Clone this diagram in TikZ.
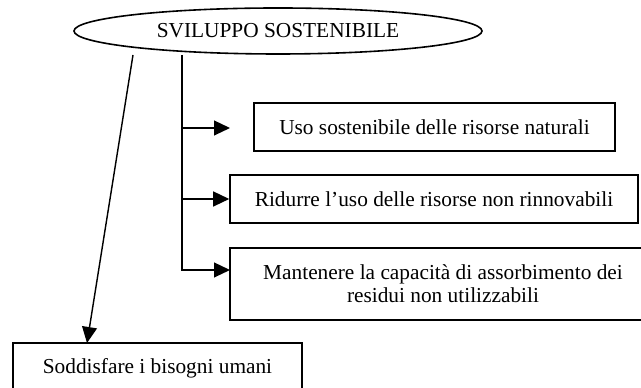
\documentclass[tikz,border=0pt]{standalone}
\usepackage{fontspec}
\setmainfont{Liberation Serif}
\usetikzlibrary{arrows.meta,shapes.geometric}
\begin{document}
\begin{tikzpicture}[x=0.5625pt,y=-0.5625pt,
  every node/.style={font=\fontsize{12}{13}\selectfont, inner sep=0pt},
  txtbox/.style={draw, line width=0.85pt, align=center},
  arr/.style={line width=0.8pt, -{Triangle[length=9pt,width=8.4pt]}},
  ln/.style={line width=0.8pt}]
\clip (0,0) rectangle (641,388);
\node[draw, ellipse, line width=0.9pt, minimum width=408*0.5625pt, minimum height=46*0.5625pt] (top) at (278,31) {SVILUPPO SOSTENIBILE};
\node[txtbox, minimum width=361*0.5625pt, minimum height=48*0.5625pt] (b1) at (434.5,127) {Uso sostenibile delle risorse naturali};
\node[txtbox, minimum width=408*0.5625pt, minimum height=48*0.5625pt] (b2) at (434,199) {Ridurre l’uso delle risorse non rinnovabili};
\node[txtbox, minimum width=426*0.5625pt, minimum height=72*0.5625pt] (b3) at (443,284) {Mantenere la capacità di assorbimento dei\\residui non utilizzabili};
\node[txtbox, minimum width=289*0.5625pt, minimum height=50*0.5625pt] (b4) at (157.5,368) {Soddisfare i bisogni umani};
\coordinate (s1) at (133,55);
\coordinate (s2) at (182,55);
\coordinate (j1) at (182,128);
\coordinate (j2) at (182,199);
\coordinate (e1) at (230,128);
\coordinate (e3) at (230,270);
\coordinate (t4) at (87,343);
\draw[arr] (s2) |- (e3);
\draw[arr] (j1) -- (e1);
\draw[arr] (j2) -- (b2.west);
\draw[arr] (s1) -- (t4);
\end{tikzpicture}
\end{document}
